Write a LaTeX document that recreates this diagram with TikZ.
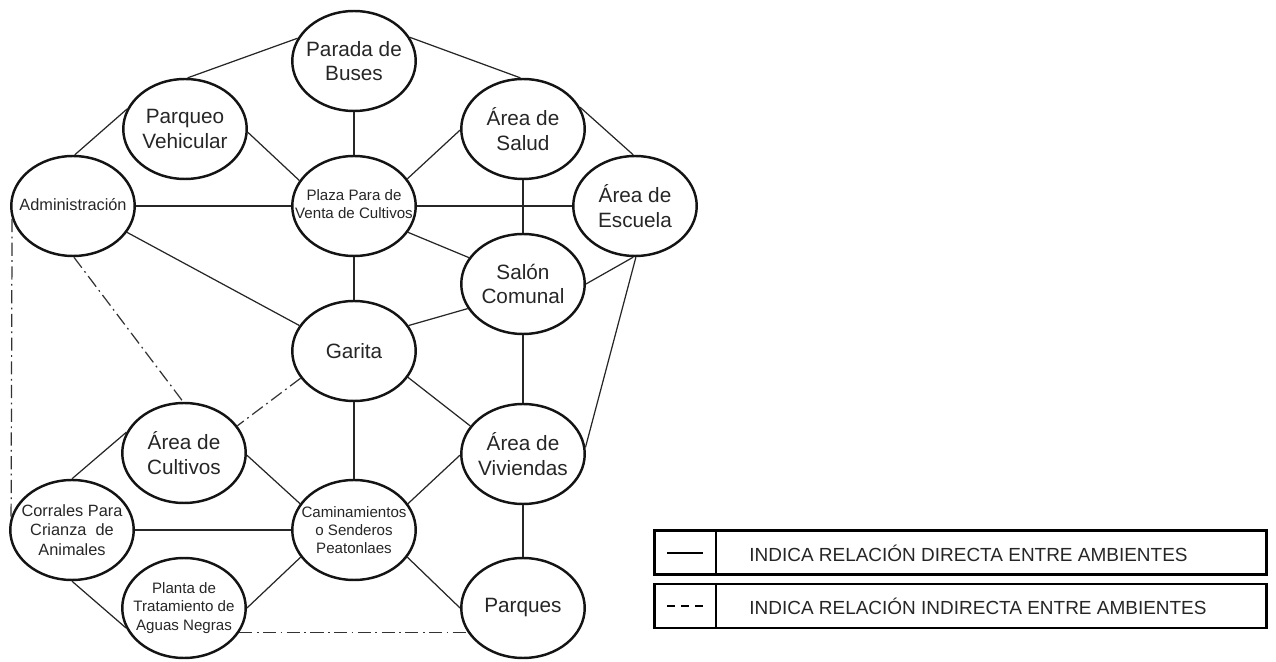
\documentclass[tikz,border=0pt]{standalone}
\usepackage{fontspec}
\setmainfont{Liberation Sans}
\usetikzlibrary{shapes.geometric}
\begin{document}
\begin{tikzpicture}[x=0.02cm,y=-0.02cm,
  amb/.style={ellipse,draw=black!92,line width=1.4pt,minimum width=2.47cm,minimum height=2cm,inner sep=0pt},
  lbl/.style={align=center,inner sep=0pt,text=black!85},
  big/.style={lbl,font=\fontsize{11.8}{14}\selectfont},
  mid/.style={lbl,font=\fontsize{9.3}{11.2}\selectfont},
  sml/.style={lbl,font=\fontsize{8.6}{10.4}\selectfont},
  rel/.style={line width=0.7pt,draw=black!85},
  ind/.style={line width=0.7pt,draw=black!80,dash pattern=on 7.5pt off 2.5pt on 1pt off 2.5pt},
  legbox/.style={draw=black,line width=1.7pt,minimum width=12.24cm,minimum height=0.88cm,inner sep=0pt},
  legtext/.style={anchor=west,inner sep=0pt,text=black!85,font=\fontsize{10.8}{12}\selectfont},
]
\useasboundingbox (0,0) rectangle (1276,662);

% nodes
\node[amb] (parada) at (354,61) {};   \node[big] (paradat) at (parada) {Parada de\\Buses};
\node[amb] (parqueo) at (185,129) {}; \node[big] (parqueot) at (parqueo) {Parqueo\\Vehicular};
\node[amb] (salud) at (523,129) {};   \node[big] (saludt) at (salud) {Área de\\Salud};
\node[amb] (admin) at (73,206) {};    \node[mid] (admint) at ([yshift=1pt]admin) {Administración};
\node[amb] (plaza) at (354,206) {};   \node[sml] (plazat) at ([yshift=1pt]plaza) {Plaza Para de\\Venta de Cultivos};
\node[amb] (escuela) at (635,206) {}; \node[big] (escuelat) at (escuela) {Área de\\Escuela};
\node[amb] (salon) at (523,284) {};   \node[big] (salont) at (salon) {Salón\\Comunal};
\node[amb] (garita) at (354,351) {};  \node[big] (garitat) at (garita) {Garita};
\node[amb] (cultivos) at (184,453) {};\node[big] (cultivost) at (cultivos) {Área de\\Cultivos};
\node[amb] (viviendas) at (523,454) {};\node[big] (viviendast) at (viviendas) {Área de\\Viviendas};
\node[amb] (corrales) at (72,530) {}; \node[mid] (corralest) at (corrales) {Corrales Para\\Crianza\ \ de\\Animales};
\node[amb] (camin) at (354,530) {};   \node[sml] (camint) at (camin) {Caminamientos\\o Senderos\\Peatonlaes};
\node[amb] (planta) at (184,608) {};  \node[sml] (plantat) at (planta) {Planta de\\Tratamiento de\\Aguas Negras};
\node[amb] (parques) at (523,608) {}; \node[big] (parquest) at (parques) {Parques};

% direct relations
\draw[rel] (admin.88) -- (parqueo.161);
\draw[rel] (parqueo.87) -- (parada.158);
\draw[rel] (parqueo.-3) -- (plaza.155);
\draw[rel] (parada.23) -- (salud.93);
\draw[rel] (salud.21) -- (escuela.92);
\draw[rel] (parada.south) -- (plaza.north);
\draw[rel] (salud.181) -- (plaza.27);
\draw[rel] (admin.east) -- (plaza.west);
\draw[rel] (plaza.east) -- (escuela.west);
\draw[rel] (salud.south) -- (salon.north);
\draw[rel] (plaza.-26) -- (salon.154);
\draw[rel] (plaza.south) -- (garita.north);
\draw[rel] (admin.-26) -- (garita.155);
\draw[rel] (salon.204) -- (garita.25);
\draw[rel] (salon.east) -- (escuela.268);
\draw[rel] (salon.south) -- (viviendas.north);
\draw[rel] (escuela.271) -- (viviendas.6);
\draw[rel] (garita.-26) -- (viviendas.152);
\draw[rel] (garita.south) -- (camin.north);
\draw[rel] (corrales.north) -- (cultivos.160);
\draw[rel] (cultivos.-2) -- (camin.154);
\draw[rel] (corrales.east) -- (camin.west);
\draw[rel] (corrales.south) -- (planta.199);
\draw[rel] (planta.east) -- (camin.207);
\draw[rel] (camin.26) -- (viviendas.181);
\draw[rel] (camin.-27) -- (parques.west);
\draw[rel] (viviendas.south) -- (parques.north);

% indirect relations
\draw[ind] (garita.207) -- (cultivos.27);
\draw[ind] (admin.-89) -- (cultivos.91);
\draw[ind] (admin.192) -- (corrales.168);
\draw[ind] (planta.-24) -- (parques.204);

% legend
\node[legbox] (leg1) at (960.5,552.5) {};
\node[legbox] (leg2) at (960.5,606) {};
\coordinate (div) at (716,580);
\draw[line width=1.5pt] (leg1.north -| div) -- (leg1.south -| div);
\draw[line width=1.5pt] (leg2.north -| div) -- (leg2.south -| div);
\coordinate (s1a) at (667,553); \coordinate (s1b) at (703,553);
\coordinate (s2a) at (667,606); \coordinate (s2b) at (703,606);
\draw[line width=1.2pt] (s1a) -- (s1b);
\draw[line width=1.2pt,dash pattern=on 4.6pt off 3.4pt] (s2a) -- (s2b);
\node[legtext] (leg1t) at (749,553) {INDICA RELACIÓN DIRECTA ENTRE AMBIENTES};
\node[legtext] (leg2t) at (749,606) {INDICA RELACIÓN INDIRECTA ENTRE AMBIENTES};
\end{tikzpicture}
\end{document}
